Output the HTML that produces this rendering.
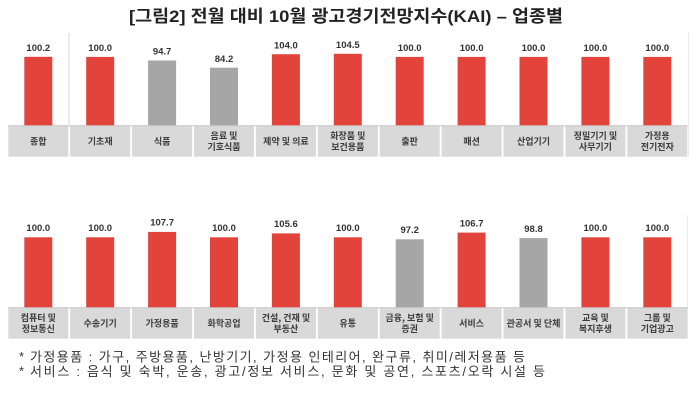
<!DOCTYPE html>
<html><head><meta charset="utf-8"><style>
html,body{margin:0;padding:0;background:#fff;}
svg{display:block;}
text{font-family:"Liberation Sans","Noto Sans CJK KR",sans-serif;}
.t{font-weight:bold;font-size:17px;fill:#222;}
.v{font-weight:bold;font-size:9.5px;fill:#333;text-anchor:middle;}
.c{font-family:"Noto Sans CJK KR","Liberation Sans",sans-serif;font-weight:bold;font-size:9px;fill:#3c3c3c;text-anchor:middle;}
.f{font-family:"Liberation Sans","Noto Sans CJK KR",sans-serif;font-size:13px;fill:#333;}
</style></head><body>
<svg width="700" height="401" viewBox="0 0 700 401" xmlns="http://www.w3.org/2000/svg">
<rect width="700" height="401" fill="#fff"/>
<text class="t" x="129" y="22" textLength="434" lengthAdjust="spacingAndGlyphs">[그림2] 전월 대비 10월 광고경기전망지수(KAI) – 업종별</text>

<!-- top row -->
<line x1="69" y1="33" x2="69" y2="125" stroke="#d4d4d4" stroke-width="1"/>
<line x1="688.5" y1="33" x2="688.5" y2="157" stroke="#ececec" stroke-width="1"/>
<g fill="#d9d9d9">
<rect x="8.3" y="125.3" width="60" height="31.4"/>
<rect x="70.2" y="125.3" width="60" height="31.4"/>
<rect x="132.1" y="125.3" width="60" height="31.4"/>
<rect x="194" y="125.3" width="60" height="31.4"/>
<rect x="255.9" y="125.3" width="60" height="31.4"/>
<rect x="317.8" y="125.3" width="60" height="31.4"/>
<rect x="379.7" y="125.3" width="60" height="31.4"/>
<rect x="441.6" y="125.3" width="60" height="31.4"/>
<rect x="503.5" y="125.3" width="60" height="31.4"/>
<rect x="565.4" y="125.3" width="60" height="31.4"/>
<rect x="627.3" y="125.3" width="60" height="31.4"/>
</g>
<line x1="8" y1="125.8" x2="688" y2="125.8" stroke="#c9c9c9" stroke-width="1"/>
<!-- bars top: height = v*0.684 -->
<rect x="24.3" y="56.8" width="28" height="68.5" fill="#e2433b"/>
<rect x="86.2" y="56.9" width="28" height="68.4" fill="#e2433b"/>
<rect x="148.1" y="60.5" width="28" height="64.8" fill="#a6a6a6"/>
<rect x="210" y="67.7" width="28" height="57.6" fill="#a6a6a6"/>
<rect x="271.9" y="54.2" width="28" height="71.1" fill="#e2433b"/>
<rect x="333.8" y="53.8" width="28" height="71.5" fill="#e2433b"/>
<rect x="395.7" y="56.9" width="28" height="68.4" fill="#e2433b"/>
<rect x="457.6" y="56.9" width="28" height="68.4" fill="#e2433b"/>
<rect x="519.5" y="56.9" width="28" height="68.4" fill="#e2433b"/>
<rect x="581.4" y="56.9" width="28" height="68.4" fill="#e2433b"/>
<rect x="643.3" y="56.9" width="28" height="68.4" fill="#e2433b"/>
<text class="v" x="38.3" y="51">100.2</text>
<text class="v" x="100.2" y="51">100.0</text>
<text class="v" x="162.1" y="54.6">94.7</text>
<text class="v" x="224" y="61.8">84.2</text>
<text class="v" x="285.9" y="48.3">104.0</text>
<text class="v" x="347.8" y="47.9">104.5</text>
<text class="v" x="409.7" y="51">100.0</text>
<text class="v" x="471.6" y="51">100.0</text>
<text class="v" x="533.5" y="51">100.0</text>
<text class="v" x="595.4" y="51">100.0</text>
<text class="v" x="657.3" y="51">100.0</text>
<text class="c" x="38.3" y="144.3">종합</text>
<text class="c" x="100.2" y="144.3">기초재</text>
<text class="c" x="162.1" y="144.3">식품</text>
<text class="c" x="224" y="139">음료 및</text>
<text class="c" x="224" y="150">기호식품</text>
<text class="c" x="285.9" y="144.3">제약 및 의료</text>
<text class="c" x="347.8" y="139">화장품 및</text>
<text class="c" x="347.8" y="150">보건용품</text>
<text class="c" x="409.7" y="144.3">출판</text>
<text class="c" x="471.6" y="144.3">패션</text>
<text class="c" x="533.5" y="144.3">산업기기</text>
<text class="c" x="595.4" y="139">정밀기기 및</text>
<text class="c" x="595.4" y="150">사무기기</text>
<text class="c" x="657.3" y="139">가정용</text>
<text class="c" x="657.3" y="150">전기전자</text>

<!-- bottom row -->
<line x1="687.5" y1="215" x2="687.5" y2="339" stroke="#ececec" stroke-width="1"/>
<g fill="#d9d9d9">
<rect x="8.3" y="307.3" width="60" height="31.4"/>
<rect x="70.2" y="307.3" width="60" height="31.4"/>
<rect x="132.1" y="307.3" width="60" height="31.4"/>
<rect x="194" y="307.3" width="60" height="31.4"/>
<rect x="255.9" y="307.3" width="60" height="31.4"/>
<rect x="317.8" y="307.3" width="60" height="31.4"/>
<rect x="379.7" y="307.3" width="60" height="31.4"/>
<rect x="441.6" y="307.3" width="60" height="31.4"/>
<rect x="503.5" y="307.3" width="60" height="31.4"/>
<rect x="565.4" y="307.3" width="60" height="31.4"/>
<rect x="627.3" y="307.3" width="60" height="31.4"/>
</g>
<line x1="8" y1="307.8" x2="688" y2="307.8" stroke="#c9c9c9" stroke-width="1"/>
<!-- bars bottom: height = v*0.70 -->
<rect x="24.3" y="237.3" width="28" height="70" fill="#e2433b"/>
<rect x="86.2" y="237.3" width="28" height="70" fill="#e2433b"/>
<rect x="148.1" y="231.9" width="28" height="75.4" fill="#e2433b"/>
<rect x="210" y="237.3" width="28" height="70" fill="#e2433b"/>
<rect x="271.9" y="233.4" width="28" height="73.9" fill="#e2433b"/>
<rect x="333.8" y="237.3" width="28" height="70" fill="#e2433b"/>
<rect x="395.7" y="239.3" width="28" height="68" fill="#a6a6a6"/>
<rect x="457.6" y="232.6" width="28" height="74.7" fill="#e2433b"/>
<rect x="519.5" y="238.1" width="28" height="69.2" fill="#a6a6a6"/>
<rect x="581.4" y="237.3" width="28" height="70" fill="#e2433b"/>
<rect x="643.3" y="237.3" width="28" height="70" fill="#e2433b"/>
<text class="v" x="38.3" y="231">100.0</text>
<text class="v" x="100.2" y="231">100.0</text>
<text class="v" x="162.1" y="225.5">107.7</text>
<text class="v" x="224" y="231">100.0</text>
<text class="v" x="285.9" y="227">105.6</text>
<text class="v" x="347.8" y="231">100.0</text>
<text class="v" x="409.7" y="233">97.2</text>
<text class="v" x="471.6" y="226.3">106.7</text>
<text class="v" x="533.5" y="231.8">98.8</text>
<text class="v" x="595.4" y="231">100.0</text>
<text class="v" x="657.3" y="231">100.0</text>
<text class="c" x="38.3" y="321">컴퓨터 및</text>
<text class="c" x="38.3" y="332">정보통신</text>
<text class="c" x="100.2" y="326.3">수송기기</text>
<text class="c" x="162.1" y="326.3">가정용품</text>
<text class="c" x="224" y="326.3">화학공업</text>
<text class="c" x="285.9" y="321">건설, 건재 및</text>
<text class="c" x="285.9" y="332">부동산</text>
<text class="c" x="347.8" y="326.3">유통</text>
<text class="c" x="409.7" y="321">금융, 보험 및</text>
<text class="c" x="409.7" y="332">증권</text>
<text class="c" x="471.6" y="326.3">서비스</text>
<text class="c" x="533.5" y="326.3">관공서 및 단체</text>
<text class="c" x="595.4" y="321">교육 및</text>
<text class="c" x="595.4" y="332">복지후생</text>
<text class="c" x="657.3" y="321">그룹 및</text>
<text class="c" x="657.3" y="332">기업광고</text>

<!-- footnotes -->
<text class="f" x="19" y="361" font-size="10">*</text>
<text class="f" x="30" y="361.5" textLength="495" lengthAdjust="spacing">가정용품 : 가구, 주방용품, 난방기기, 가정용 인테리어, 완구류, 취미/레저용품 등</text>
<text class="f" x="19" y="375.5" font-size="10">*</text>
<text class="f" x="30" y="376" textLength="515" lengthAdjust="spacing">서비스 : 음식 및 숙박, 운송, 광고/정보 서비스, 문화 및 공연, 스포츠/오락 시설 등</text>
</svg>
</body></html>
